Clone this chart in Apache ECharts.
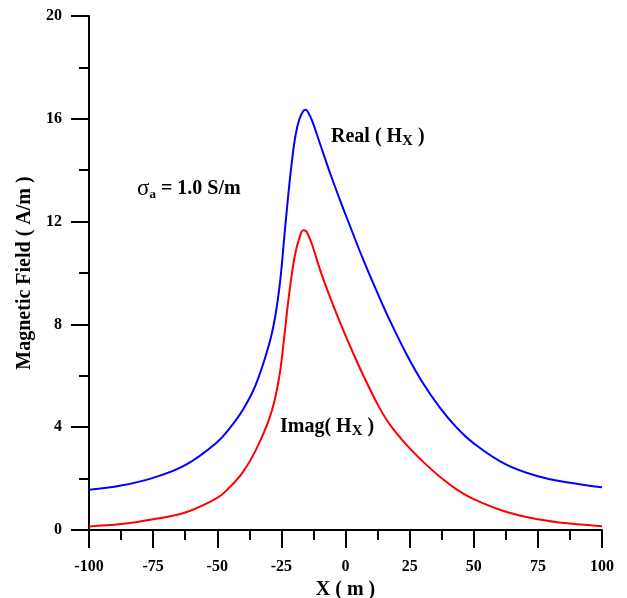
<!DOCTYPE html>
<html><head><meta charset="utf-8">
<script src="https://cdn.jsdelivr.net/npm/echarts@6/dist/echarts.min.js"></script>
<style>html,body{margin:0;padding:0;background:#fff}#c{width:627px;height:598px}</style>
</head><body><div id="c"></div>
<script>
const xValues = [-100, -87.5, -75, -62.5, -50, -45, -40, -35, -30, -27.5, -25.5, -24, -22.5, -21, -19.5, -18, -16.5, -15.5, -14.5, -13, -10, -6, -2, 0.5, 7, 13, 17.3, 23.9, 30.3, 36.8, 43, 50, 62.5, 75, 87.5, 100];
const realHx = [1.57, 1.73, 2.03, 2.52, 3.42, 3.98, 4.68, 5.65, 7.15, 8.25, 9.66, 11.25, 12.85, 14.25, 15.35, 15.98, 16.3, 16.35, 16.24, 15.92, 15.05, 13.88, 12.8, 12.15, 10.5, 9.1, 8.15, 6.82, 5.7, 4.76, 4.02, 3.37, 2.55, 2.09, 1.84, 1.66];
const imagHx = [0.14, 0.23, 0.42, 0.68, 1.25, 1.68, 2.25, 3.1, 4.25, 5.1, 6.16, 7.4, 8.75, 9.9, 10.8, 11.35, 11.66, 11.64, 11.47, 11.1, 10.15, 9.05, 8.05, 7.45, 6.0, 4.8, 4.1, 3.3, 2.65, 2.07, 1.6, 1.2, 0.71, 0.42, 0.25, 0.15];
const xAxisRange = [-100, 100, 25];
const yAxisRange = [0, 20, 4];
const seriesNames = ['Real ( Hx )', 'Imag( Hx )'];

const FONT = '"Liberation Serif", "Times New Roman", serif';
const chart = echarts.init(document.getElementById('c'));
const axisCommon = {
  axisLine: { show: true, onZero: false, lineStyle: { color: '#000', width: 2 } },
  axisTick: { show: true, inside: false, length: 18, lineStyle: { color: '#000', width: 2 } },
  minorTick: { show: true, splitNumber: 2, length: 10, lineStyle: { color: '#000', width: 2 } },
  splitLine: { show: false },
  axisLabel: { color: '#000', fontFamily: FONT, fontWeight: 'bold', fontSize: 16 },
  nameTextStyle: { color: '#000', fontFamily: FONT, fontWeight: 'bold', fontSize: 20 }
};
chart.setOption({
  animation: false,
  backgroundColor: '#fff',
  grid: { left: 89, right: 25, top: 16, bottom: 68, outerBoundsMode: 'none', containLabel: false },
  xAxis: Object.assign({}, axisCommon, {
    type: 'value', min: xAxisRange[0], max: xAxisRange[1], interval: xAxisRange[2],
    name: 'X ( m )', nameLocation: 'middle', nameGap: 46,
    axisLabel: Object.assign({}, axisCommon.axisLabel, { margin: 29 })
  }),
  yAxis: Object.assign({}, axisCommon, {
    type: 'value', min: yAxisRange[0], max: yAxisRange[1], interval: yAxisRange[2],
    name: 'Magnetic Field ( A/m )', nameLocation: 'middle', nameGap: 52,
    axisLabel: Object.assign({}, axisCommon.axisLabel, { margin: 27 })
  }),
  series: [
    { name: seriesNames[0], type: 'line', smooth: 0.4, showSymbol: false,
      lineStyle: { color: '#0000ff', width: 2 },
      data: xValues.map((x, i) => [x, realHx[i]]) },
    { name: seriesNames[1], type: 'line', smooth: 0.4, showSymbol: false,
      lineStyle: { color: '#ff0000', width: 2 },
      data: xValues.map((x, i) => [x, imagHx[i]]) }
  ],
  graphic: [
    { type: 'text', left: 331, top: 125, style: { text: 'Real ( H{s|X} )', fontFamily: FONT, fontWeight: 'bold', fontSize: 20, fill: '#000',
      rich: { s: { fontFamily: FONT, fontWeight: 'bold', fontSize: 15, lineHeight: 15, padding: [9, 0, 0, 0] } } } },
    { type: 'text', left: 280, top: 415, style: { text: 'Imag( H{s|X} )', fontFamily: FONT, fontWeight: 'bold', fontSize: 20, fill: '#000',
      rich: { s: { fontFamily: FONT, fontWeight: 'bold', fontSize: 15, lineHeight: 15, padding: [9, 0, 0, 0] } } } },
    { type: 'text', left: 137, top: 177, style: { text: '{g|σ}{s|a} = 1.0 S/m', fontFamily: FONT, fontWeight: 'bold', fontSize: 20, fill: '#000',
      rich: { g: { fontFamily: FONT, fontWeight: 'normal', fontSize: 23 },
              s: { fontFamily: FONT, fontWeight: 'bold', fontSize: 13, lineHeight: 13, padding: [11, 0, 0, 0] } } } }
  ]
});
</script></body></html>
